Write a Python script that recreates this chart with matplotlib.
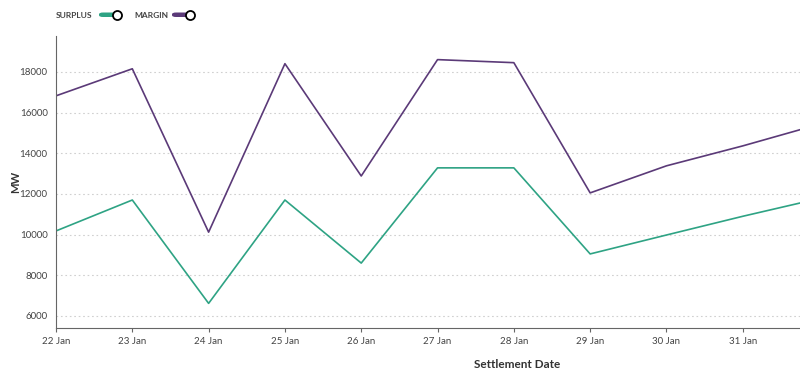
import matplotlib.pyplot as plt
import numpy as np
from matplotlib.patches import FancyBboxPatch

plt.rcParams['font.family'] = ['Lato', 'DejaVu Sans']

dates = np.array(['2024-01-22', '2024-01-23', '2024-01-24', '2024-01-25', '2024-01-26',
                  '2024-01-27', '2024-01-28', '2024-01-29', '2024-01-30', '2024-01-31',
                  '2024-02-01'], dtype='datetime64[D]')
surplus = [10180, 11700, 6620, 11700, 8600, 13280, 13280, 9050, 9980, 10900, 11770]
margin = [16820, 18150, 10120, 18400, 12880, 18600, 18450, 12050, 13380, 14360, 15420]
tick_labels = ['22 Jan', '23 Jan', '24 Jan', '25 Jan', '26 Jan', '27 Jan',
               '28 Jan', '29 Jan', '30 Jan', '31 Jan']

green = '#2ea384'
purple = '#5b3a78'

fig = plt.figure(figsize=(8, 3.77), dpi=100)
ax = fig.add_axes([0.07, 0.13, 0.93, 0.775])

ax.plot(dates, surplus, color=green, linewidth=1.2)
ax.plot(dates, margin, color=purple, linewidth=1.2)

# the right edge cuts the last day short
ax.set_xlim(dates[0], dates[0] + np.timedelta64(int(9.76 * 24), 'h'))
ax.set_ylim(5410, 19770)
ax.set_yticks(range(6000, 18001, 2000))
ax.set_xticks(dates[:10])
ax.set_xticklabels(tick_labels)

ax.grid(axis='y', linestyle=(0, (1.5, 2.5)), color='#d0d0d0', linewidth=0.8)
ax.set_axisbelow(True)
for s in ['top', 'right']:
    ax.spines[s].set_visible(False)
for s in ['left', 'bottom']:
    ax.spines[s].set_color('#666666')
ax.tick_params(axis='x', labelsize=7, colors='#444444', length=3, color='#666666')
ax.tick_params(axis='y', labelsize=7, colors='#444444', length=0, pad=6)

ax.set_ylabel('MW', fontsize=8, fontweight='bold', color='#333333')
ax.yaxis.set_label_coords(-0.047, 0.5)
ax.set_xlabel('Settlement Date', fontsize=8.5, fontweight='bold', color='#333333')
ax.xaxis.set_label_coords(0.62, -0.105)

# legend drawn as toggle switches
def toggle(x_text, x_pill, label, color):
    fig.text(x_text / 800, 1 - 15 / 377, label, fontsize=6, fontweight='bold',
             color='#444444', va='center', ha='left')
    pill = FancyBboxPatch((x_pill / 800, 1 - 17 / 377), 22 / 800, 4.5 / 377,
                          boxstyle='round,pad=0,rounding_size=0.005',
                          transform=fig.transFigure, facecolor=color, edgecolor='none')
    fig.patches.append(pill)
    fig.add_artist(plt.Line2D([(x_pill + 18) / 800], [1 - 15 / 377], marker='o',
                              markersize=6.5, markerfacecolor='white',
                              markeredgecolor='black', markeredgewidth=1.3,
                              transform=fig.transFigure))

toggle(56, 99, 'SURPLUS', green)
toggle(134, 172, 'MARGIN', purple)

fig.savefig('out.png', dpi=100)
